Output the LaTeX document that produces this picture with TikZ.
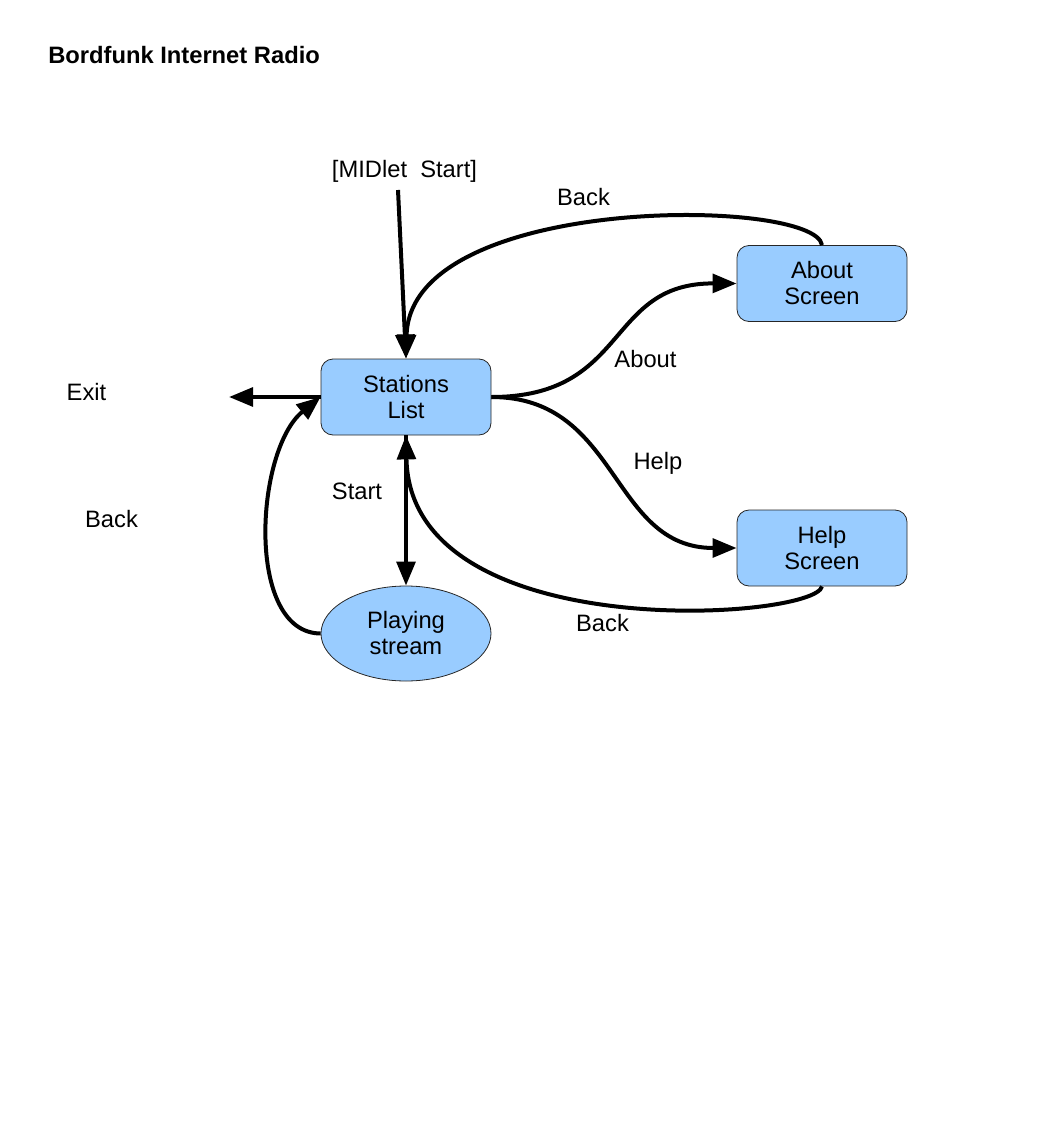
\documentclass[tikz,border=0pt]{standalone}
\usepackage{fontspec}
\setmainfont{Liberation Sans}
\usetikzlibrary{arrows.meta,shapes}
\definecolor{skyblue}{HTML}{99CCFF}

\begin{document}
\begin{tikzpicture}[x=0.75pt,y=-0.75pt,>={Triangle[length=18pt,width=14pt]},
    font=\fontsize{17.8}{19.5}\selectfont]
  \tikzstyle{screen}=[rectangle,rounded corners=9pt,draw=black!85,line width=0.6pt,
  			  fill=skyblue,minimum width=127.5pt,minimum height=57pt,align=center,inner sep=0pt]
  \tikzstyle{play}=[ellipse,draw=black!85,line width=0.6pt,fill=skyblue,
  			  minimum width=127.5pt,minimum height=71.25pt,align=center,inner sep=0pt]
  \tikzstyle{trans}=[line width=3pt]
  \tikzstyle{lbl}=[anchor=base,inner sep=0pt]
  \useasboundingbox (0,0) rectangle (1036,1123);
  \node [anchor=base west,inner sep=0pt,font=\bfseries\fontsize{17.8}{19.5}\selectfont]
    (title) at (48,64) {Bordfunk Internet Radio};
  % states
  \node [screen] (stations) at (406,397) {Stations\\List};
  \node [screen] (about) at (822,283.5) {About\\Screen};
  \node [screen] (help) at (822,548) {Help\\Screen};
  \node [play] (playing) at (406,633.5) {Playing\\stream};
  \coordinate (midlet) at (398,190);
  \coordinate (exit) at (229,397);
  % transitions
  \draw [trans,->] (midlet) -- (stations.north);
  \draw [trans,->] (about.north) .. controls (815,197) and (410,193) .. (stations.north);
  \draw [trans,->] (stations.east) .. controls (630,397) and (605,283) .. (about.west);
  \draw [trans,->] (stations.east) .. controls (620,397) and (610,548) .. (help.west);
  \draw [trans,->] (help.south) .. controls (815,620) and (410,648) .. (stations.south);
  \draw [trans,->] (stations.south) -- (playing.north);
  \draw [trans,->] (playing.west) .. controls (245,633) and (255,450) .. (stations.west);
  \draw [trans,->] (stations.west) -- (exit);
  % labels
  \node [lbl] (midlet text) at (404.5,178) {[MIDlet~~Start]};
  \node [lbl] (back about) at (583.5,205) {Back};
  \node [lbl] (about text) at (645.5,367) {About};
  \node [lbl] (help text) at (658,469) {Help};
  \node [lbl] (back help) at (602.5,631) {Back};
  \node [lbl] (exit text) at (86.5,400) {Exit};
  \node [lbl] (back play) at (111.5,527) {Back};
  \node [lbl] (start text) at (357,499) {Start};
\end{tikzpicture}
\end{document}
